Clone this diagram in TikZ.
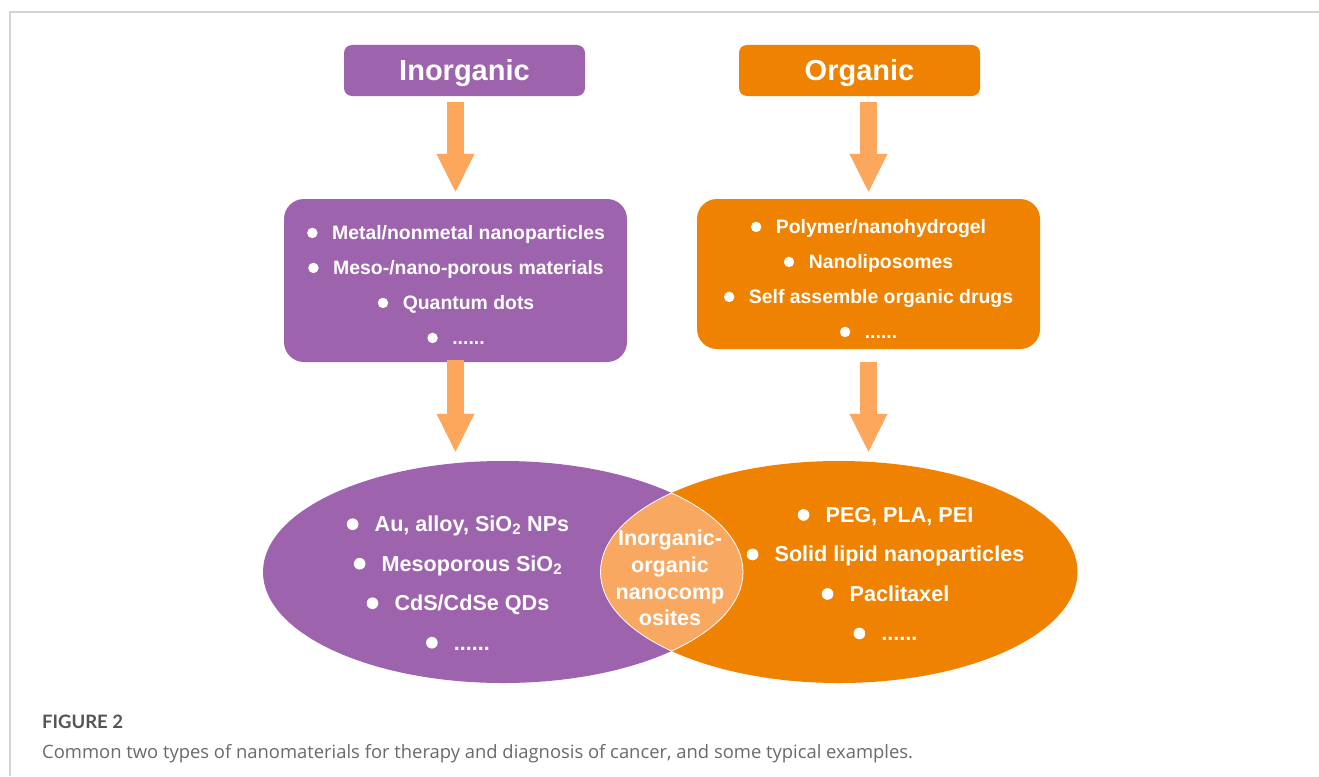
\documentclass[tikz,border=0pt]{standalone}
\usepackage{fontspec}
\setmainfont{Liberation Sans}
\newfontfamily\capfont{Open Sans}
\newfontfamily\figfont{Lato}
\usetikzlibrary{shapes.geometric,arrows.meta}
\definecolor{purp}{HTML}{9E63AD}
\definecolor{orng}{HTML}{EF8200}
\definecolor{lorng}{HTML}{FCA75C}
\definecolor{lenscol}{HTML}{F9A862}
\definecolor{framecol}{HTML}{D4D4D4}
\definecolor{capgray}{HTML}{6A6A6A}
\definecolor{figgray}{HTML}{555555}
\newcommand\bul{\tikz[x=1cm,y=1cm,baseline=-0.34em]\fill[white](0,0) circle[radius=0.27em];}
\tikzset{
  topbox/.style={rounded corners=8pt, minimum width=241pt, minimum height=51pt, inner sep=0pt,
    text height=20.8pt, text depth=0pt,
    text=white, font=\fontsize{29}{34}\selectfont\bfseries},
  listbox/.style={rounded corners=20pt, minimum width=343pt, inner sep=0pt},
  boxtxt/.style={text=white, align=center, inner sep=0pt, font=\fontsize{19.4}{35}\selectfont\bfseries},
  elltxt/.style={text=white, align=center, inner sep=0pt, font=\fontsize{21.6}{39.5}\selectfont\bfseries},
  lenstxt/.style={text=white, align=center, inner sep=0pt, font=\fontsize{21.5}{26.7}\selectfont\bfseries},
  ell/.style={ellipse, inner sep=0pt, minimum height=222pt},
  bigarrow/.style={draw=lorng, color=lorng, line width=17pt, -{Triangle[width=35pt,length=39pt]}},
  framestyle/.style={draw=framecol, line width=2pt},
}
\newcommand\gp{\hspace{0.75em}}
\begin{document}
\begin{tikzpicture}[x=1pt,y=-1pt]
\useasboundingbox (0,0) rectangle (1319,776);
\fill[white] (0,0) rectangle (1319,776);
% frame
\coordinate (f1) at (1319,12);
\coordinate (f2) at (10,12);
\coordinate (f3) at (10,776);
\draw[framestyle] (f1) -- (f2) -- (f3);

% top boxes
\node[topbox, fill=purp] (inorg) at (464.5,70.5) {Inorganic};
\node[topbox, fill=orng] (org) at (859.5,70.5) {Organic};

% list boxes
\node[listbox, fill=purp, minimum height=163pt] (ibox) at (455.5,280.5) {};
\node[listbox, fill=orng, minimum height=150pt] (obox) at (868.5,274) {};
\node[boxtxt] (itxt) at (456,285) {\bul\gp Metal/nonmetal nanoparticles\\ \bul\gp Meso-/nano-porous materials\\ \bul\gp Quantum dots\\ \bul\gp ......};
\node[boxtxt] (otxt) at (868.5,279) {\bul\gp Polymer/nanohydrogel\\ \bul\gp Nanoliposomes\\ \bul\gp Self assemble organic drugs\\ \bul\gp ......};

% ellipses
\node[ell, fill=purp, minimum width=480pt] (pell) at (503,572) {};
\node[ell, fill=orng, minimum width=477pt] (oell) at (839,572) {};
\begin{scope}
  \clip (503,572) ellipse [x radius=240pt, y radius=111pt];
  \fill[lenscol] (839,572) ellipse [x radius=238.5pt, y radius=111pt];
  \draw[white, line width=0.8pt] (839,572) ellipse [x radius=238.5pt, y radius=111pt];
\end{scope}
\begin{scope}
  \clip (839,572) ellipse [x radius=238.5pt, y radius=111pt];
  \draw[white, line width=0.8pt] (503,572) ellipse [x radius=240pt, y radius=111pt];
\end{scope}
\node[elltxt] (ptxt) at (458,583) {\bul\gp Au, alloy, SiO\textsubscript{2} NPs\\ \bul\gp Mesoporous SiO\textsubscript{2}\\ \bul\gp CdS/CdSe QDs\\ \bul\gp ......};
\node[elltxt] (otxt2) at (885.5,574) {\bul\gp PEG, PLA, PEI\\ \bul\gp Solid lipid nanoparticles\\ \bul\gp Paclitaxel\\ \bul\gp ......};
\node[lenstxt] (ltxt) at (670,578) {Inorganic-\\organic\\nanocomp\\osites};

% arrows
\coordinate (a1) at (ibox.north |- inorg.south);
\coordinate (a2) at (obox.north |- org.south);
\coordinate (a3) at (ibox.south |- pell.north);
\coordinate (a4) at (obox.south |- oell.north);
\draw[bigarrow, shorten <=6pt, shorten >=6pt] (a1) -- (ibox.north);
\draw[bigarrow, shorten <=6pt, shorten >=6pt] (a2) -- (obox.north);
\draw[bigarrow, shorten <=-2pt, shorten >=8pt] (ibox.south) -- (a3);
\draw[bigarrow, shorten <=13pt, shorten >=8pt] (obox.south) -- (a4);

% caption
\node[anchor=base west, inner sep=0pt, text=figgray, font=\figfont\fontsize{18.5}{22}\selectfont\bfseries] (fig) at (42,728) {FIGURE 2};
\node[anchor=base west, inner sep=0pt, text=capgray, font=\capfont\fontsize{18.4}{22}\selectfont] (cap) at (42,758) {Common two types of nanomaterials for therapy and diagnosis of cancer, and some typical examples.};
\end{tikzpicture}
\end{document}
